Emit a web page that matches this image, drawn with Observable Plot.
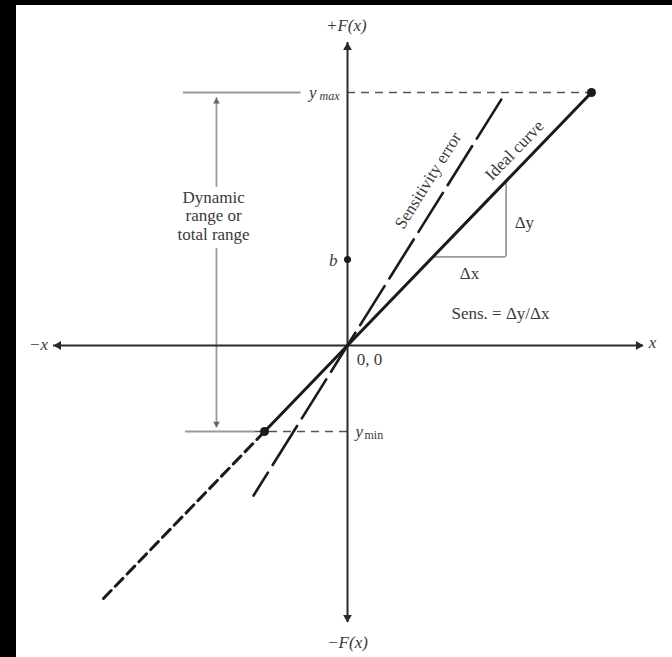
<!DOCTYPE html>
<html>
<head>
<meta charset="utf-8">
<script src="https://cdn.jsdelivr.net/npm/d3@7"></script>
<script src="https://cdn.jsdelivr.net/npm/@observablehq/plot@0.6"></script>
<style>
  html, body { margin: 0; padding: 0; background: #fff; overflow: hidden; }
  #frame { width: 656px; height: 652px; border-left: 16px solid #000; border-top: 5px solid #000; background: #fff; }
  #frame svg { display: block; }
</style>
</head>
<body>
<div id="frame"></div>
<script>
// ---- data (chart units, origin at 0,0) ----
const idealX = [-10, -3.4, 10];          // dashed extension, lower end point, upper end point
const idealY = [-10, -3.4, 10];
const sensX = [-3.85, 6.3];
const sensY = [-5.93, 9.72];
const yMax = 10;
const yMin = -3.4;
const bValue = 3.4;
const axisXEnds = [-12.05, 12.13];
const axisYEnds = [-10.95, 11.98];
const rangeX = -5.37;                    // dynamic range arrow position
const rangeGap = [3.83, 6.25];            // gap left for its label
const rangeEnds = [-3.25, 9.8];
const yMaxGuide = [-6.72, -1.9];
const yMinGuide = [-6.64, -3.77];
const deltaX = [3.5, 6.5];               // slope triangle

const axisLabels = [
  {x: -0.05, y: 12.65, text: "+F(x)"},
  {x: 0.0, y: -11.74, text: "−F(x)"},
  {x: -12.66, y: 0.05, text: "−x"},
  {x: 12.5, y: 0.12, text: "x"}
];
const noteLabels = [
  {x: 7.25, y: 4.86, text: "Δy"},
  {x: 5.0, y: 2.85, text: "Δx"},
  {x: 6.27, y: 1.26, text: "Sens. = Δy/Δx"},
  {x: 0.9, y: -0.55, text: "0, 0"}
];
const rangeLabel = [{x: -5.49, y: 5.14, text: "Dynamic\nrange or\ntotal range"}];
const curveLabels = [
  {x: 6.84, y: 7.71, text: "Ideal curve", angle: -46},
  {x: 3.3, y: 6.52, text: "Sensitivity error", angle: -58}
];

// ---- geometry of the scales ----
const W = 656, H = 652;
const ox = 331, oy = 340, ux = 24.4, uy = 25.3;

const serif = "Liberation Serif, Times New Roman, serif";
const ink = "#1a1a1a";
const gray = "#9a9a9a";
const textCol = "#3a3a3a";

const idealSolid = [{x: idealX[1], y: idealY[1]}, {x: idealX[2], y: idealY[2]}];
const idealDash = [{x: idealX[0], y: idealY[0]}, {x: idealX[1], y: idealY[1]}];
const sens = sensX.map((x, i) => ({x, y: sensY[i]}));
const ends = [{x: idealX[1], y: idealY[1]}, {x: idealX[2], y: idealY[2]}];

const chart = Plot.plot({
  width: W, height: H, margin: 0,
  style: {background: "#fff", fontFamily: serif},
  x: {domain: [-ox / ux, (W - ox) / ux], range: [0, W], axis: null},
  y: {domain: [-(H - oy) / uy, oy / uy], range: [H, 0], axis: null},
  marks: [
    // guides at ymax / ymin
    Plot.ruleY([yMax], {x1: 0, x2: idealX[2], stroke: "#555", strokeWidth: 1.5, strokeDasharray: "8,6"}),
    Plot.ruleY([yMax], {x1: yMaxGuide[0], x2: yMaxGuide[1], stroke: gray, strokeWidth: 1.8}),
    Plot.ruleY([yMin], {x1: yMinGuide[0], x2: yMinGuide[1], stroke: gray, strokeWidth: 1.8}),
    Plot.ruleY([yMin], {x1: yMinGuide[1], x2: 0, stroke: "#555", strokeWidth: 1.5, strokeDasharray: "8,6"}),
    // dynamic range arrow
    Plot.ruleX([rangeX], {y1: rangeGap[1], y2: rangeEnds[1], stroke: gray, strokeWidth: 1.8}),
    Plot.ruleX([rangeX], {y1: rangeGap[0], y2: rangeEnds[0], stroke: gray, strokeWidth: 1.8}),
    Plot.dot([{x: rangeX, y: rangeEnds[1]}], {x: "x", y: "y", symbol: "triangle2", r: 3.2, fill: "#666", dy: 4}),
    Plot.dot([{x: rangeX, y: rangeEnds[0]}], {x: "x", y: "y", symbol: "triangle2", r: 3.2, fill: "#666", rotate: 180, dy: -4}),
    // slope triangle
    Plot.ruleY([deltaX[0]], {x1: deltaX[0], x2: deltaX[1], stroke: gray, strokeWidth: 1.8}),
    Plot.ruleX([deltaX[1]], {y1: deltaX[0], y2: deltaX[1], stroke: gray, strokeWidth: 1.8}),
    // axes
    Plot.ruleY([0], {x1: axisXEnds[0], x2: axisXEnds[1], stroke: "#2a2a2a", strokeWidth: 2}),
    Plot.ruleX([0], {y1: axisYEnds[0], y2: axisYEnds[1], stroke: "#2a2a2a", strokeWidth: 2}),
    Plot.dot([{x: axisXEnds[1], y: 0}], {x: "x", y: "y", symbol: "triangle2", r: 4.2, fill: "#2a2a2a", rotate: 90, dx: -5}),
    Plot.dot([{x: axisXEnds[0], y: 0}], {x: "x", y: "y", symbol: "triangle2", r: 4.2, fill: "#2a2a2a", rotate: -90, dx: 5}),
    Plot.dot([{x: 0, y: axisYEnds[1]}], {x: "x", y: "y", symbol: "triangle2", r: 4.2, fill: "#2a2a2a", dy: 5}),
    Plot.dot([{x: 0, y: axisYEnds[0]}], {x: "x", y: "y", symbol: "triangle2", r: 4.2, fill: "#2a2a2a", rotate: 180, dy: -5}),
    // curves
    Plot.line(idealDash, {x: "x", y: "y", stroke: ink, strokeWidth: 3, strokeDasharray: "11,6"}),
    Plot.line(idealSolid, {x: "x", y: "y", stroke: ink, strokeWidth: 3}),
    Plot.line(sens.slice().reverse(), {x: "x", y: "y", stroke: ink, strokeWidth: 2.6, strokeDasharray: "46,9"}),
    Plot.dot(ends, {x: "x", y: "y", r: 4.5, fill: ink}),
    Plot.dot([{x: 0, y: bValue}], {x: "x", y: "y", r: 3.5, fill: ink}),
    // labels
    Plot.text([{x: 0, y: bValue}], {x: "x", y: "y", text: () => "b", dx: -10, fontSize: 17, fontStyle: "italic", fill: textCol, textAnchor: "end", dy: 1}),
    Plot.text([{x: 0, y: yMax}], {x: "x", y: "y", text: () => "y", dx: -31, fontSize: 17, fontStyle: "italic", fill: textCol, textAnchor: "end"}),
    Plot.text([{x: 0, y: yMax}], {x: "x", y: "y", text: () => "max", dx: -8, dy: 4, fontSize: 12, fontStyle: "italic", fill: textCol, textAnchor: "end"}),
    Plot.text([{x: 0, y: yMin}], {x: "x", y: "y", text: () => "y", dx: 8, fontSize: 17, fontStyle: "italic", fill: textCol, textAnchor: "start"}),
    Plot.text([{x: 0, y: yMin}], {x: "x", y: "y", text: () => "min", dx: 17, dy: 4, fontSize: 12, fill: textCol, textAnchor: "start"}),
    Plot.text(axisLabels, {x: "x", y: "y", text: "text", fontSize: 17, fontStyle: "italic", fill: textCol}),
    Plot.text(noteLabels, {x: "x", y: "y", text: "text", fontSize: 17, fill: textCol}),
    Plot.text(rangeLabel, {x: "x", y: "y", text: "text", fontSize: 17, lineHeight: 1.08, fill: textCol}),
    Plot.text(curveLabels, {x: "x", y: "y", text: "text", rotate: "angle", fontSize: 17, fill: textCol})
  ]
});
document.getElementById("frame").appendChild(chart);
</script>
</body>
</html>
